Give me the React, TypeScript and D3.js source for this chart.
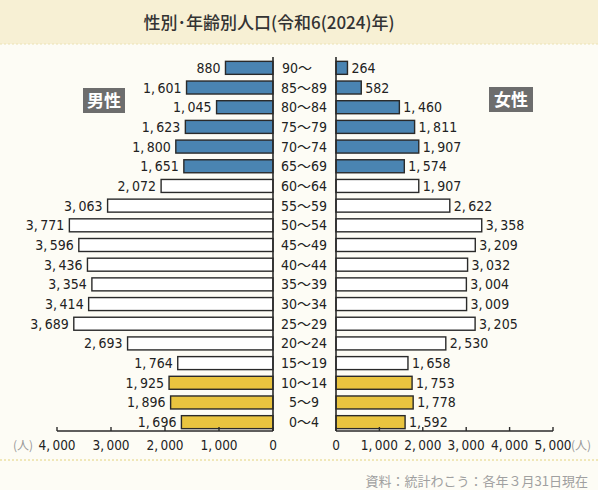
import React from "react";
import * as d3 from "d3";

const ageGroups = ["90〜", "85〜89", "80〜84", "75〜79", "70〜74", "65〜69", "60〜64", "55〜59", "50〜54", "45〜49", "40〜44", "35〜39", "30〜34", "25〜29", "20〜24", "15〜19", "10〜14", "5〜9", "0〜4"];
const maleValues = [880, 1601, 1045, 1623, 1800, 1651, 2072, 3063, 3771, 3596, 3436, 3354, 3414, 3689, 2693, 1764, 1925, 1896, 1696];
const femaleValues = [264, 582, 1460, 1811, 1907, 1574, 1907, 2622, 3358, 3209, 3032, 3004, 3009, 3205, 2530, 1658, 1753, 1778, 1592];
const groupType = ["old", "old", "old", "old", "old", "old", "work", "work", "work", "work", "work", "work", "work", "work", "work", "work", "young", "young", "young"];
const maleTicks = [0, 1000, 2000, 3000, 4000];
const femaleTicks = [0, 1000, 2000, 3000, 4000, 5000];

const title = "性別･年齢別人口(令和6(2024)年)";
const source = "資料：統計わこう：各年３月31日現在";

const fillFor: Record<string, string> = { old: "#4a84b2", work: "#ffffff", young: "#e9c43f" };
const NUM_FONT = "'Liberation Sans Narrow', 'DejaVu Sans Condensed', 'Noto Sans CJK JP', sans-serif";
const JP_FONT = "'Noto Sans CJK JP', sans-serif";

const fmt = (v: number) => d3.format(",")(v).replace(",", ",\u2009");

export default function App() {
  const W = 598, H = 490;
  const xL = d3.scaleLinear().domain([0, 4000]).range([273, 57]);
  const xR = d3.scaleLinear().domain([0, 5000]).range([336, 553]);
  const y = d3.scaleBand<string>().domain(ageGroups).range([58, 432]).paddingInner(0.34).paddingOuter(0.17);
  const axisY = 431;
  const ink = "#2a2a2a";

  return (
    <svg width={W} height={H} style={{ position: "absolute", left: 0, top: 0 }} xmlns="http://www.w3.org/2000/svg">
      <rect x={0} y={0} width={W} height={H} fill="#fdfcf5" />
      <rect x={0} y={0} width={W} height={44} fill="#f7f0d4" />
      <line x1={0} x2={W} y1={44} y2={44} stroke="#ece2b4" strokeWidth={1} strokeDasharray="2,2" />
      <line x1={0} x2={W} y1={460} y2={460} stroke="#ecdfa4" strokeWidth={1.5} strokeDasharray="2,2" />

      <text x={269} y={29} textAnchor="middle" fontFamily={JP_FONT} fontSize={17} fontWeight={500} fill="#333">{title}</text>

      {/* gender labels */}
      <rect x={83} y={88} width={42} height={25} fill="#6d6d6d" />
      <text x={104} y={106.5} textAnchor="middle" fontFamily={JP_FONT} fontSize={17} fontWeight={700} fill="#fff">男性</text>
      <rect x={489} y={87} width={44} height={25} fill="#6d6d6d" />
      <text x={511} y={105.5} textAnchor="middle" fontFamily={JP_FONT} fontSize={17} fontWeight={700} fill="#fff">女性</text>

      {/* bars */}
      {ageGroups.map((g, i) => {
        const by = y(g)!;
        const bh = y.bandwidth();
        const mv = maleValues[i];
        const fv = femaleValues[i];
        const fill = fillFor[groupType[i]];
        return (
          <g key={g}>
            <rect x={xL(mv)} y={by} width={xL(0) - xL(mv)} height={bh} fill={fill} stroke={ink} strokeWidth={1.4} />
            <rect x={xR(0)} y={by} width={xR(fv) - xR(0)} height={bh} fill={fill} stroke={ink} strokeWidth={1.4} />
            <text x={xL(mv) - 5} y={by + bh / 2 + 5} textAnchor="end" fontFamily={NUM_FONT} fontSize={14} fill="#222">{fmt(mv)}</text>
            <text x={xR(fv) + 4} y={by + bh / 2 + 5} textAnchor="start" fontFamily={NUM_FONT} fontSize={14} fill="#222">{fmt(fv)}</text>
            <text x={i === 0 ? 297 : 304} y={by + bh / 2 + 5} textAnchor="middle" fontFamily={NUM_FONT} fontSize={14} fill="#222">{g}</text>
          </g>
        );
      })}

      {/* vertical baselines */}
      <line x1={xL(0)} x2={xL(0)} y1={57} y2={axisY} stroke={ink} strokeWidth={1.6} />
      <line x1={xR(0)} x2={xR(0)} y1={57} y2={axisY} stroke={ink} strokeWidth={1.6} />

      {/* axes */}
      <line x1={xL(4000)} x2={xL(0)} y1={axisY} y2={axisY} stroke={ink} strokeWidth={1.6} />
      <line x1={xR(0)} x2={xR(5000)} y1={axisY} y2={axisY} stroke={ink} strokeWidth={1.6} />
      {maleTicks.map((t) => (
        <g key={"m" + t}>
          <line x1={xL(t)} x2={xL(t)} y1={axisY} y2={axisY - 4} stroke={ink} strokeWidth={1.4} />
          <text x={xL(t)} y={450} textAnchor="middle" fontFamily={NUM_FONT} fontSize={13.5} fill="#222">{fmt(t)}</text>
        </g>
      ))}
      {femaleTicks.map((t) => (
        <g key={"f" + t}>
          <line x1={xR(t)} x2={xR(t)} y1={axisY} y2={axisY - 4} stroke={ink} strokeWidth={1.4} />
          <text x={xR(t)} y={450} textAnchor="middle" fontFamily={NUM_FONT} fontSize={13.5} fill="#222">{fmt(t)}</text>
        </g>
      ))}
      <text x={13} y={450} fontFamily={JP_FONT} fontSize={12} fill="#999">(人)</text>
      <text x={571} y={450} fontFamily={JP_FONT} fontSize={12} fill="#999">(人)</text>

      <text x={588} y={486} textAnchor="end" fontFamily={JP_FONT} fontSize={13} fill="#a0a0a0">{source}</text>
    </svg>
  );
}
